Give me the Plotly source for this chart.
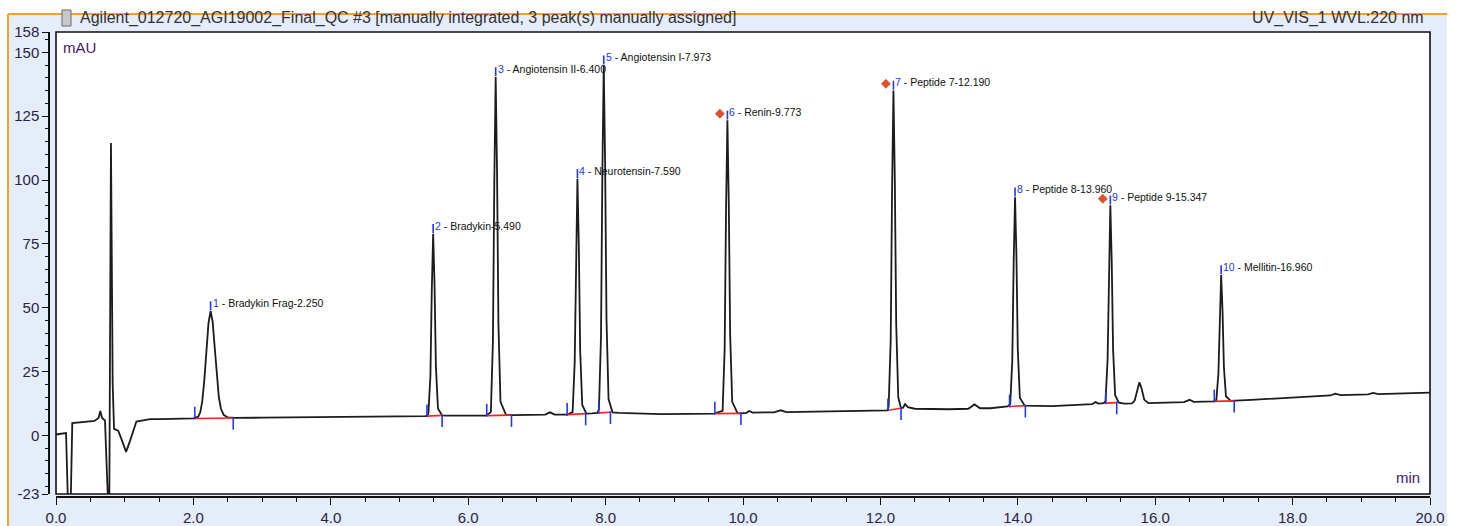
import plotly.graph_objects as go

# ---------------- data ----------------
time_min = [
    0.00, 0.10, 0.146, 0.18, 0.21, 0.237, 0.40, 0.56, 0.62, 0.645, 0.67, 0.713,
    0.765, 0.775, 0.80, 0.825, 0.845, 0.905, 0.96, 1.02, 1.08, 1.17, 1.37, 1.52,
    2.00, 2.07, 2.10, 2.13, 2.16, 2.19, 2.22, 2.25, 2.28, 2.31, 2.34, 2.37, 2.40,
    2.44, 2.50, 2.60, 3.00, 3.50, 4.00, 4.50, 5.00, 5.38,
    5.42, 5.45, 5.47, 5.49, 5.51, 5.53, 5.56, 5.62, 5.70, 6.00, 6.26,
    6.33, 6.36, 6.38, 6.40, 6.42, 6.44, 6.47, 6.55, 6.65, 7.00, 7.12, 7.19, 7.26, 7.44,
    7.52, 7.55, 7.57, 7.59, 7.61, 7.63, 7.66, 7.72, 7.80, 7.88,
    7.903, 7.933, 7.953, 7.973, 7.993, 8.013, 8.043, 8.10, 8.20, 8.50, 8.80, 9.20, 9.58,
    9.703, 9.733, 9.753, 9.773, 9.793, 9.813, 9.843, 9.92, 9.98, 10.05, 10.09, 10.14,
    10.45, 10.55, 10.63, 11.00, 11.50, 12.10,
    12.12, 12.15, 12.17, 12.19, 12.21, 12.23, 12.26, 12.30, 12.33, 12.36, 12.40, 12.50,
    13.00, 13.28, 13.37, 13.45, 13.60, 13.85,
    13.89, 13.92, 13.94, 13.96, 13.98, 14.00, 14.03, 14.10, 14.50, 14.90, 15.08, 15.13,
    15.18, 15.25,
    15.277, 15.307, 15.327, 15.347, 15.367, 15.387, 15.417, 15.47, 15.55, 15.66,
    15.70, 15.74, 15.77, 15.80, 15.84, 15.90, 16.10, 16.42, 16.50, 16.56, 16.85,
    16.89, 16.92, 16.94, 16.96, 16.98, 17.00, 17.03, 17.10, 17.40, 18.00, 18.55, 18.62,
    18.70, 19.10, 19.17, 19.25, 19.60, 20.00,
]
signal_mau = [
    0.3, 0.6, 0.9, -32.0, -32.0, 4.8, 5.2, 5.6, 6.8, 9.5, 6.8, 5.8,
    -32.0, -32.0, 114.5, 20.0, 2.5, 1.8, -2.0, -6.5, -2.0, 5.4, 6.3, 6.3,
    6.6, 7.3, 9.0, 13.5, 22.0, 33.5, 44.0, 48.7, 44.5, 34.5, 23.5, 15.0, 10.5,
    8.0, 7.0, 6.8, 6.9, 7.0, 7.1, 7.2, 7.3, 7.5,
    8.3, 23.3, 56.9, 79.0, 59.0, 26.9, 10.5, 7.8, 7.7, 7.7, 7.7,
    9.1, 37.0, 99.3, 140.4, 103.3, 43.6, 13.1, 8.0, 7.9, 8.0, 8.1, 9.0, 8.1, 8.1,
    9.1, 28.5, 71.9, 100.5, 74.7, 33.1, 11.9, 8.5, 8.6, 8.8,
    10.2, 38.7, 102.6, 145.0, 106.7, 45.5, 14.2, 9.0, 8.8, 8.5, 8.3, 8.4, 8.5,
    9.6, 33.8, 87.8, 123.4, 91.2, 39.5, 13.1, 8.7, 8.6, 8.8, 9.5, 8.9,
    9.0, 9.8, 9.1, 9.3, 9.5, 9.8,
    11.2, 37.4, 96.3, 135.1, 100.0, 43.7, 14.9, 10.6, 10.8, 12.2, 11.0, 10.4,
    10.2, 10.4, 12.1, 10.6, 10.6, 11.3,
    12.2, 29.4, 67.9, 93.3, 70.4, 33.5, 14.7, 11.6, 11.4, 11.9, 12.2, 13.0,
    12.4, 12.6,
    13.4, 29.7, 66.1, 90.1, 68.4, 33.5, 15.7, 12.8, 12.4, 12.5,
    13.5, 18.0, 20.8, 18.5, 14.0, 12.6, 12.7, 13.0, 13.9, 13.1, 13.3,
    13.8, 24.2, 47.5, 62.8, 48.9, 26.7, 15.3, 13.5, 13.9, 14.8, 15.6, 16.3,
    15.7, 16.0, 16.6, 16.1, 16.3, 16.7,
]

peak_num = [1, 2, 3, 4, 5, 6, 7, 8, 9, 10]
peak_name = ["Bradykin Frag", "Bradykin", "Angiotensin II", "Neurotensin",
             "Angiotensin I", "Renin", "Peptide 7", "Peptide 8", "Peptide 9", "Mellitin"]
peak_rt = [2.250, 5.490, 6.400, 7.590, 7.973, 9.773, 12.190, 13.960, 15.347, 16.960]
peak_apex = [48.7, 79.0, 140.4, 100.5, 145.0, 123.4, 135.1, 93.3, 90.1, 62.8]
peak_start = [2.02, 5.40, 6.27, 7.44, 7.90, 9.59, 12.11, 13.88, 15.28, 16.86]
peak_end = [2.58, 5.62, 6.63, 7.71, 8.07, 9.97, 12.30, 14.11, 15.44, 17.15]
base_start = [6.6, 7.5, 7.7, 8.1, 8.8, 8.5, 9.8, 11.3, 12.6, 13.3]
base_end = [6.8, 7.8, 7.9, 8.5, 9.0, 8.6, 10.6, 11.6, 12.8, 13.5]
manually_assigned = [6, 7, 9]

x_ticks = [0, 2, 4, 6, 8, 10, 12, 14, 16, 18, 20]
x_tick_labels = ["0.0", "2.0", "4.0", "6.0", "8.0", "10.0", "12.0", "14.0", "16.0", "18.0", "20.0"]
y_ticks = [-23, 0, 25, 50, 75, 100, 125, 150, 158]
y_tick_labels = ["-23", "0", "25", "50", "75", "100", "125", "150", "158"]

title_left = "Agilent_012720_AGI19002_Final_QC #3 [manually integrated, 3 peak(s) manually assigned]"
title_right = "UV_VIS_1 WVL:220 nm"

# ---------------- styling ----------------
W, H = 1460, 526
ML, MR, MT, MB = 49, 30, 32, 29
PW, PH = W - ML - MR, H - MT - MB
FONT = "Arial, 'Liberation Sans', sans-serif"
TICKCOL = "#2a2448"
UNITCOL = "#4a2060"


def px_x(px):  # window pixel -> paper x
    return (px - ML) / PW


def px_y(py):  # window pixel -> paper y
    return (H - MB - py) / PH


fig = go.Figure()

fig.add_trace(go.Scatter(x=time_min, y=signal_mau, mode="lines",
                         line=dict(color="#1c1c1c", width=1.8),
                         hoverinfo="skip", showlegend=False))

# integration baselines (red)
bx, by = [], []
for s, e, b0, b1 in zip(peak_start, peak_end, base_start, base_end):
    bx += [s, e, None]
    by += [b0, b1, None]
fig.add_trace(go.Scatter(x=bx, y=by, mode="lines", line=dict(color="#ff2020", width=1.6),
                         hoverinfo="skip", showlegend=False))

# peak delimiters (blue)
tx, ty = [], []
for s, e, b0, b1 in zip(peak_start, peak_end, base_start, base_end):
    tx += [s, s, None, e, e, None]
    ty += [b0 - 0.4, b0 + 4.6, None, b1 + 0.4, b1 - 4.6, None]
for rt, ap in zip(peak_rt, peak_apex):
    tx += [rt, rt, None]
    ty += [ap + 0.3, ap + 3.8, None]
fig.add_trace(go.Scatter(x=tx, y=ty, mode="lines", line=dict(color="#2038f0", width=1.6),
                         hoverinfo="skip", showlegend=False))

# manually assigned markers
mx = [peak_rt[peak_num.index(n)] - 0.11 for n in manually_assigned]
my = [peak_apex[peak_num.index(n)] + 2.6 for n in manually_assigned]
fig.add_trace(go.Scatter(x=mx, y=my, mode="markers",
                         marker=dict(symbol="diamond", size=7, color="#e0502a",
                                     line=dict(color="#b03010", width=0.5)),
                         hoverinfo="skip", showlegend=False))

annotations = []
for n, name, rt, ap in zip(peak_num, peak_name, peak_rt, peak_apex):
    annotations.append(dict(
        x=rt, y=ap, xref="x", yref="y", xanchor="left", yanchor="bottom",
        xshift=0, yshift=0, showarrow=False,
        text=f'<span style="color:#2038e0">{n}</span> - {name}-{rt:.3f}',
        font=dict(family=FONT, size=10.5, color="#111111")))

annotations += [
    dict(x=0, y=1, xref="x domain", yref="y domain", xanchor="left", yanchor="top",
         xshift=5, yshift=-5, showarrow=False, text="mAU",
         font=dict(family=FONT, size=15, color=UNITCOL)),
    dict(x=1, y=0, xref="x domain", yref="y domain", xanchor="right", yanchor="bottom",
         xshift=-8, yshift=6, showarrow=False, text="min",
         font=dict(family=FONT, size=15, color=UNITCOL)),
    dict(x=px_x(78), y=px_y(18), xref="paper", yref="paper", xanchor="left", yanchor="middle",
         showarrow=False, text=title_left, font=dict(family=FONT, size=16, color="#333333")),
    dict(x=px_x(1426), y=px_y(18), xref="paper", yref="paper", xanchor="right", yanchor="middle",
         showarrow=False, text=title_right, font=dict(family=FONT, size=16, color="#333333")),
]

shapes = [
    # light-blue panel
    dict(type="rect", xref="paper", yref="paper", layer="below",
         x0=px_x(8), x1=px_x(1447), y0=px_y(H + 4), y1=px_y(14),
         fillcolor="#e4edf9", line=dict(width=0)),
    # orange frame lines
    dict(type="line", xref="paper", yref="paper", x0=px_x(8), x1=px_x(1447),
         y0=px_y(14), y1=px_y(14), line=dict(color="#f0a030", width=2)),
    dict(type="line", xref="paper", yref="paper", x0=px_x(8), x1=px_x(8),
         y0=px_y(14), y1=px_y(H + 4), line=dict(color="#f0a030", width=2)),
    # white plot area + frame
    dict(type="rect", xref="x domain", yref="y domain", layer="below",
         x0=0, x1=1, y0=0, y1=1, fillcolor="white", line=dict(width=0)),
    dict(type="rect", xref="x domain", yref="y domain", layer="above",
         x0=0, x1=1, y0=0, y1=1, line=dict(color="#111111", width=1.6)),
    # little document icon
    dict(type="rect", xref="paper", yref="paper", x0=px_x(62), x1=px_x(71),
         y0=px_y(26), y1=px_y(10), fillcolor="#c8c8c8", line=dict(color="#6a6a6a", width=1)),
]

fig.update_layout(
    width=W, height=H,
    margin=dict(l=ML, r=MR, t=MT, b=MB, pad=0, autoexpand=False),
    paper_bgcolor="white", plot_bgcolor="white",
    showlegend=False,
    annotations=annotations, shapes=shapes,
    xaxis=dict(range=[0, 20], domain=[7 / PW, 1], anchor="free", position=0,
               automargin=False,
               showline=True, linecolor="#111111", linewidth=1.5,
               ticks="outside", ticklen=7, tickwidth=1.3, tickcolor="#111111",
               tickvals=x_ticks, ticktext=x_tick_labels,
               tickfont=dict(family=FONT, size=15, color=TICKCOL),
               minor=dict(ticks="outside", dtick=0.5, tick0=0, ticklen=4,
                          tickwidth=1, tickcolor="#111111", showgrid=False),
               showgrid=False, zeroline=False),
    yaxis=dict(range=[-23, 158], domain=[3 / PH, 1], anchor="free", position=0,
               automargin=False,
               showline=True, linecolor="#111111", linewidth=1.5,
               ticks="outside", ticklen=6, tickwidth=1.3, tickcolor="#111111",
               tickvals=y_ticks, ticktext=y_tick_labels,
               tickfont=dict(family=FONT, size=15, color=TICKCOL),
               minor=dict(ticks="outside", dtick=5, tick0=0, ticklen=3,
                          tickwidth=1, tickcolor="#111111", showgrid=False),
               showgrid=False, zeroline=False),
)

fig.write_html("out.html", config={"displayModeBar": False},
               post_script="document.body.style.margin='0';document.body.style.padding='0';")
